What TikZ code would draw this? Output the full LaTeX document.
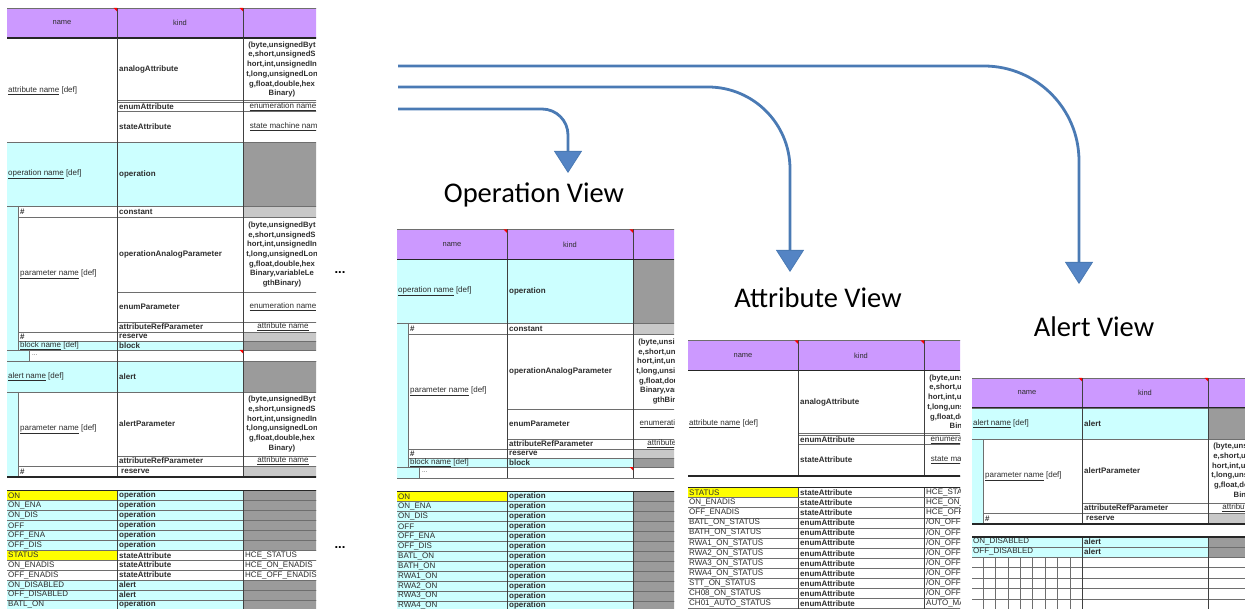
\documentclass[tikz,border=0pt]{standalone}
\usepackage{fontspec}
\setmainfont{Liberation Sans}
\newfontfamily\viewfont{Carlito}
\usetikzlibrary{arrows.meta}

\definecolor{sheetpurple}{RGB}{204,153,255}
\definecolor{sheetcyan}{RGB}{204,255,255}
\definecolor{sheetyellow}{RGB}{255,255,0}
\definecolor{sheetgray}{RGB}{155,155,155}
\definecolor{sheetlight}{RGB}{200,200,200}
\definecolor{gridgray}{RGB}{110,110,110}
\definecolor{celltext}{RGB}{45,45,45}
\definecolor{flowblue}{RGB}{74,122,180}
\definecolor{headblue}{RGB}{84,132,196}

% type lists of the value column
\newcommand{\typelist}{(byte,unsignedByt\\e,short,unsignedS\\hort,int,unsignedIn\\t,long,unsignedLon\\g,float,double,hex\\Binary)}
\newcommand{\typelistlong}{(byte,unsignedByt\\e,short,unsignedS\\hort,int,unsignedIn\\t,long,unsignedLon\\g,float,double,hex\\Binary,variableLe\\gthBinary)}

\newcommand{\redmark}[2]{\fill[red] (#1-3.5,#2) -- (#1,#2) -- (#1,#2+3.5) -- cycle;}

% header row: name | kind | value
\newcommand{\sheethead}[1]{%
  \fill[sheetpurple] (0,0) rectangle (316,30);
  \draw[gridline] (0,0) -- (316,0);
  \draw[colline] (110,0) -- (110,30) (236,0) -- (236,30);
  \draw[thickrule] (0,30) -- (316,30);
  \node[hdrtxt] (#1-name) at (55,15) {name};
  \node[hdrtxt] (#1-kind) at (173,15) {kind};
  \redmark{110}{0}\redmark{236}{0}}

% attribute definition block
\newcommand{\attrblock}[1]{%
  \draw[gridline] (110,62.5) -- (316,62.5) (110,64) -- (316,64) (110,73) -- (316,73);
  \draw[gridline, line width=1pt] (0,105) -- (316,105);
  \draw[colline] (110,0) -- (110,105) (236,0) -- (236,105);
  \node[celltxt] (#1-attr) at (1,52.5) {\underline{attribute name} [def]};
  \node[kindtxt] (#1-analog) at (112,31.5) {analogAttribute};
  \node[typetxt] (#1-atype) at (275,31.5) {\typelist};
  \node[kindtxt] (#1-enum) at (112,68.5) {enumAttribute};
  \node[reftxt] (#1-enumref) at (276,68.5) {\underline{enumeration name}};
  \node[kindtxt] (#1-state) at (112,89) {stateAttribute};
  \node[reftxt] (#1-stateref) at (279,89) {\underline{state machine name}};}

% operation definition block
\newcommand{\opblock}[1]{%
  \fill[sheetcyan] (0,0) rectangle (236,63);
  \fill[sheetgray] (236,0) rectangle (316,63);
  \fill[sheetcyan] (0,63) rectangle (11,207);
  \fill[sheetlight] (236,63) rectangle (316,74);
  \fill[sheetlight] (236,189) rectangle (316,198);
  \fill[sheetcyan] (11,198) rectangle (236,207);
  \fill[sheetgray] (236,198) rectangle (316,207);
  \fill[sheetcyan] (0,207) rectangle (22,218);
  \draw[gridline] (0,63) -- (316,63) (11,74) -- (316,74) (110,149) -- (316,149)
    (110,179) -- (316,179) (11,189) -- (316,189) (11,198) -- (316,198)
    (0,207) -- (316,207) (0,218) -- (316,218);
  \draw[gridline] (11,63) -- (11,207) (22,207) -- (22,218);
  \draw[colline] (110,0) -- (110,218) (236,0) -- (236,218);
  \redmark{236}{207}
  \node[celltxt] (#1-op) at (1,31.5) {\underline{operation name} [def]};
  \node[kindtxt] (#1-opkind) at (112,31.5) {operation};
  \node[kindtxt] (#1-cnum) at (13,68.5) {\#};
  \node[kindtxt] (#1-const) at (112,68.5) {constant};
  \node[celltxt] (#1-param) at (13,131.5) {\underline{parameter name} [def]};
  \node[kindtxt] (#1-opanalog) at (112,111.5) {operationAnalogParameter};
  \node[typetxt] (#1-ptype) at (275,111.5) {\typelistlong};
  \node[kindtxt] (#1-penum) at (112,164) {enumParameter};
  \node[reftxt] (#1-penumref) at (276,164) {\underline{enumeration name}};
  \node[kindtxt] (#1-pref) at (112,184) {attributeRefParameter};
  \node[reftxt] (#1-prefname) at (276,184) {\underline{attribute name}};
  \node[kindtxt] (#1-rnum) at (13,193.5) {\#};
  \node[kindtxt] (#1-res) at (112,193.5) {reserve};
  \node[celltxt] (#1-block) at (13,202.5) {\underline{block name} [def]};
  \node[kindtxt] (#1-blkkind) at (112,202.5) {block};
  \node[celltxt, font=\fontsize{6}{6}\selectfont] (#1-more) at (25,212.5) {...};}

% alert definition block
\newcommand{\alertblock}[1]{%
  \fill[sheetcyan] (0,0) rectangle (236,31);
  \fill[sheetgray] (236,0) rectangle (316,31);
  \fill[sheetcyan] (0,31) rectangle (11,116);
  \fill[sheetlight] (236,105) rectangle (316,116);
  \draw[gridline] (0,0) -- (316,0) (0,31) -- (316,31) (110,95) -- (316,95)
    (11,105) -- (316,105) (11,31) -- (11,116);
  \draw[colline] (110,0) -- (110,116) (236,0) -- (236,116);
  \draw[thickrule] (0,116) -- (316,116);
  \node[celltxt] (#1-alert) at (1,16) {\underline{alert name} [def]};
  \node[kindtxt] (#1-alkind) at (112,16) {alert};
  \node[celltxt] (#1-aparam) at (13,68) {\underline{parameter name} [def]};
  \node[kindtxt] (#1-alparam) at (112,63) {alertParameter};
  \node[typetxt] (#1-altype) at (275,63) {\typelist};
  \node[kindtxt] (#1-alref) at (112,100) {attributeRefParameter};
  \node[reftxt] (#1-alrefname) at (276,100) {\underline{attribute name}};
  \node[kindtxt] (#1-anum) at (13,110.5) {\#};
  \node[kindtxt] (#1-ares) at (114,110.5) {reserve};}

% list rows: name/kind/value/name fill/kind fill/value fill
\newcommand{\sheetrows}[3]{%
  \foreach \nm/\kd/\thd/\fa/\fb/\fc [count=\i] in {#3} {
    \pgfmathsetmacro{\ya}{(\i-1)*#2}
    \pgfmathsetmacro{\yb}{\i*#2}
    \pgfmathsetmacro{\ym}{(\i-0.5)*#2}
    \fill[\fa] (0,\ya) rectangle (110,\yb);
    \fill[\fb] (110,\ya) rectangle (236,\yb);
    \fill[\fc] (236,\ya) rectangle (316,\yb);
    \draw[gridline] (0,\ya) -- (316,\ya) (0,\yb) -- (316,\yb);
    \draw[colline] (110,\ya) -- (110,\yb) (236,\ya) -- (236,\yb);
    \node[celltxt] (#1-n\i) at (1,\ym) {\nm};
    \node[kindtxt] (#1-k\i) at (112,\ym) {\kd};
    \node[celltxt] (#1-v\i) at (238,\ym) {\thd};
  }
  \draw[thickrule] (0,0) -- (316,0);}

\begin{document}
\begin{tikzpicture}[x=1pt, y=-1pt,
    celltxt/.style={anchor=west, inner sep=0pt, text=celltext, font=\fontsize{8}{9}\selectfont},
    kindtxt/.style={celltxt, font=\fontsize{8}{9}\selectfont\bfseries},
    typetxt/.style={inner sep=0pt, align=center, text=celltext, font=\fontsize{7.7}{9.7}\selectfont\bfseries},
    reftxt/.style={inner sep=0pt, text=celltext, font=\fontsize{8}{9}\selectfont},
    hdrtxt/.style={inner sep=0pt, text=celltext, font=\fontsize{7.5}{8}\selectfont},
    viewtitle/.style={inner sep=0pt, font=\viewfont\fontsize{28.5}{32}\selectfont},
    moredots/.style={inner sep=0pt, font=\fontsize{13}{13}\selectfont\bfseries},
    gridline/.style={draw=gridgray, line width=0.6pt},
    colline/.style={draw=black!75, line width=0.8pt},
    thickrule/.style={draw=black!85, line width=1.8pt},
    flow/.style={draw=flowblue, line width=2.8pt,
      -{Triangle[width=28pt, length=22pt, line width=0.8pt, fill=headblue]}}
  ]
  \useasboundingbox (0,0) rectangle (1245,609);

  % full definition sheet
  \begin{scope}
    \clip (7,8) rectangle (316,609);
    \begin{scope}[shift={(7,8)}] \sheethead{full} \end{scope}
    \begin{scope}[shift={(7,38)}] \attrblock{full} \end{scope}
    \begin{scope}[shift={(7,143)}] \opblock{full} \end{scope}
    \begin{scope}[shift={(7,361)}] \alertblock{full} \end{scope}
    \begin{scope}[shift={(7,490.5)}]
      \sheetrows{full}{9.95}{
        ON/operation/{}/sheetyellow/sheetcyan/sheetgray,
        ON\_ENA/operation/{}/sheetcyan/sheetcyan/sheetgray,
        ON\_DIS/operation/{}/sheetcyan/sheetcyan/sheetgray,
        OFF/operation/{}/sheetcyan/sheetcyan/sheetgray,
        OFF\_ENA/operation/{}/sheetcyan/sheetcyan/sheetgray,
        OFF\_DIS/operation/{}/sheetcyan/sheetcyan/sheetgray,
        STATUS/stateAttribute/HCE\_STATUS/sheetyellow/white/white,
        ON\_ENADIS/stateAttribute/HCE\_ON\_ENADIS/white/white/white,
        OFF\_ENADIS/stateAttribute/HCE\_OFF\_ENADIS/white/white/white,
        ON\_DISABLED/alert/{}/sheetcyan/sheetcyan/sheetgray,
        OFF\_DISABLED/alert/{}/sheetcyan/sheetcyan/sheetgray,
        BATL\_ON/operation/{}/sheetcyan/sheetcyan/sheetgray}
    \end{scope}
  \end{scope}
  \node[moredots] (gap-top) at (340,273) {...};
  \node[moredots] (gap-bot) at (340,548) {...};

  % operation view
  \node[viewtitle] (opview) at (534,195) {Operation View};
  \begin{scope}
    \clip (397,229) rectangle (674,609);
    \begin{scope}[shift={(397,229.5)}] \sheethead{opv} \end{scope}
    \begin{scope}[shift={(397,260)}] \opblock{opv} \end{scope}
    \begin{scope}[shift={(397,491.5)}]
      \sheetrows{opv}{9.95}{
        ON/operation/{}/sheetyellow/sheetcyan/sheetgray,
        ON\_ENA/operation/{}/sheetcyan/sheetcyan/sheetgray,
        ON\_DIS/operation/{}/sheetcyan/sheetcyan/sheetgray,
        OFF/operation/{}/sheetcyan/sheetcyan/sheetgray,
        OFF\_ENA/operation/{}/sheetcyan/sheetcyan/sheetgray,
        OFF\_DIS/operation/{}/sheetcyan/sheetcyan/sheetgray,
        BATL\_ON/operation/{}/sheetcyan/sheetcyan/sheetgray,
        BATH\_ON/operation/{}/sheetcyan/sheetcyan/sheetgray,
        RWA1\_ON/operation/{}/sheetcyan/sheetcyan/sheetgray,
        RWA2\_ON/operation/{}/sheetcyan/sheetcyan/sheetgray,
        RWA3\_ON/operation/{}/sheetcyan/sheetcyan/sheetgray,
        RWA4\_ON/operation/{}/sheetcyan/sheetcyan/sheetgray}
    \end{scope}
  \end{scope}

  % attribute view
  \node[viewtitle] (attrview) at (818,298) {Attribute View};
  \begin{scope}
    \clip (688,340) rectangle (960,609);
    \begin{scope}[shift={(688,340.5)}] \sheethead{atv} \end{scope}
    \begin{scope}[shift={(688,371)}]
      \attrblock{atv}
      \draw[thickrule] (0,105) -- (316,105);
    \end{scope}
    \begin{scope}[shift={(688,487.5)}]
      \sheetrows{atv}{10.1}{
        STATUS/stateAttribute/HCE\_STATUS/sheetyellow/white/white,
        ON\_ENADIS/stateAttribute/HCE\_ON\_ENADIS/white/white/white,
        OFF\_ENADIS/stateAttribute/HCE\_OFF\_ENADIS/white/white/white,
        BATL\_ON\_STATUS/enumAttribute/{/ON\_OFF}/white/white/white,
        BATH\_ON\_STATUS/enumAttribute/{/ON\_OFF}/white/white/white,
        RWA1\_ON\_STATUS/enumAttribute/{/ON\_OFF}/white/white/white,
        RWA2\_ON\_STATUS/enumAttribute/{/ON\_OFF}/white/white/white,
        RWA3\_ON\_STATUS/enumAttribute/{/ON\_OFF}/white/white/white,
        RWA4\_ON\_STATUS/enumAttribute/{/ON\_OFF}/white/white/white,
        STT\_ON\_STATUS/enumAttribute/{/ON\_OFF}/white/white/white,
        CH08\_ON\_STATUS/enumAttribute/{/ON\_OFF}/white/white/white,
        CH01\_AUTO\_STATUS/enumAttribute/AUTO\_MA/white/white/white}
    \end{scope}
  \end{scope}

  % alert view
  \node[viewtitle] (alertview) at (1094,327) {Alert View};
  \begin{scope}
    \clip (972,377) rectangle (1245,609);
    \begin{scope}[shift={(972,378)}] \sheethead{alv} \end{scope}
    \begin{scope}[shift={(972,408)}] \alertblock{alv} \end{scope}
    \begin{scope}[shift={(972,537)}]
      \sheetrows{alv}{10}{
        ON\_DISABLED/alert/{}/sheetcyan/sheetcyan/sheetgray,
        OFF\_DISABLED/alert/{}/sheetcyan/sheetcyan/sheetgray}
      % empty rows below
      \foreach \r in {30.5,41,51,62}
        \draw[gridline] (0,\r) -- (316,\r);
      \foreach \c in {11,23,36,48,60,73,85,98}
        \draw[gridline] (\c,20) -- (\c,75);
      \draw[colline] (110,20) -- (110,75) (236,20) -- (236,75);
    \end{scope}
  \end{scope}

  % views taken from the sheet
  \coordinate (src-alert) at (398,66);
  \coordinate (src-attr) at (398,87);
  \coordinate (src-op) at (398,109);
  \coordinate (tip-op) at (568,173);
  \coordinate (tip-attr) at (790,272);
  \coordinate (tip-alert) at (1079,284);
  \draw[flow, rounded corners=26pt] (src-op) -| (tip-op);
  \draw[flow, rounded corners=82pt] (src-attr) -| (tip-attr);
  \draw[flow, rounded corners=95pt] (src-alert) -| (tip-alert);
\end{tikzpicture}
\end{document}
